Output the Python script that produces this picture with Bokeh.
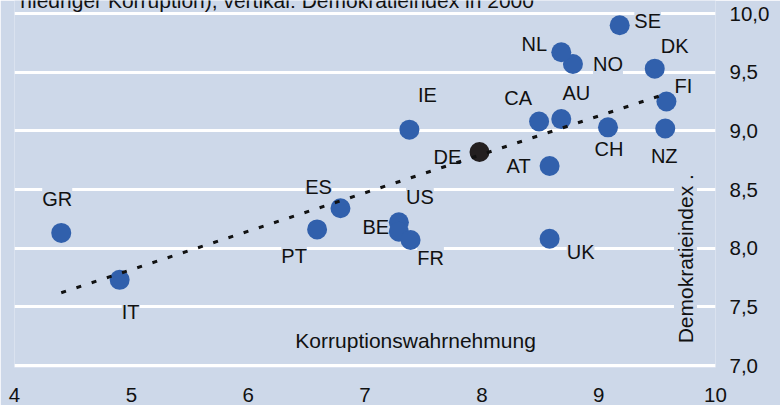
import math
from bokeh.plotting import figure
from bokeh.models import ColumnDataSource, LabelSet, Label, Range1d, FixedTicker
from bokeh.core.properties import value
from bokeh.embed import file_html
from bokeh.resources import INLINE

# ---- data ----
countries = ["GR", "IT", "PT", "ES", "US", "BE", "FR", "IE", "DE", "CA",
             "AU", "AT", "UK", "CH", "NZ", "FI", "DK", "NO", "NL", "SE"]
corruption = [4.40, 4.90, 6.59, 6.79, 7.29, 7.29, 7.39, 7.38, 7.98, 8.49,
              8.68, 8.58, 8.58, 9.08, 9.57, 9.58, 9.48, 8.78, 8.68, 9.18]
democracy = [8.13, 7.73, 8.16, 8.34, 8.22, 8.14, 8.07, 9.01, 8.82, 9.08,
             9.10, 8.70, 8.08, 9.03, 9.02, 9.25, 9.53, 9.57, 9.67, 9.90]
highlight = "DE"

trend_x = [4.40, 9.59]
trend_y = [7.62, 9.32]

x_ticks = [4, 5, 6, 7, 8, 9, 10]
x_tick_labels = ["4", "5", "6", "7", "8", "9", "10"]
y_ticks = [7.0, 7.5, 8.0, 8.5, 9.0, 9.5, 10.0]
y_tick_labels = ["7,0", "7,5", "8,0", "8,5", "9,0", "9,5", "10,0"]

x_title = "Korruptionswahrnehmung"
y_title = "Demokratieindex ."
top_text = "niedriger Korruption), vertikal: Demokratieindex in 2000"

# ---- layout / style ----
label_dx = [-4, 11, -23, -22, 21, -23, 20, 18, -32, -21,
            15, -31, 31, 1, -1, 17, 20, 35, -27, 28]
label_dy = [34, -32, -27, 21, 25, 5, -18, 35, -5, 23,
            26, 0, -13, -22, -28, 16, 23, 0, 8, 4]

BG = "#CDD8E9"
BLUE = "#3160AC"
DARK = "#231F20"
TXT = "#111111"
FONT = "Liberation Sans"

colors = [DARK if c == highlight else BLUE for c in countries]

src = ColumnDataSource(dict(x=corruption, y=democracy, name=countries,
                            color=colors, dx=label_dx, dy=label_dy))

p = figure(width=780, height=405, output_backend="svg", toolbar_location=None,
           x_range=Range1d(4, 10), y_range=Range1d(6.983, 10.1108),
           y_axis_location="right",
           min_border_left=14, min_border_right=65, min_border_top=0,
           min_border_bottom=38,
           background_fill_color=BG, border_fill_color=BG,
           outline_line_color=None)

# axes
for ax in (p.xaxis[0], p.yaxis[0]):
    ax.axis_line_color = None
    ax.major_tick_line_color = None
    ax.minor_tick_line_color = None
    ax.major_tick_in = 0
    ax.major_tick_out = 0
    ax.major_label_text_font = FONT
    ax.major_label_text_font_size = "20.5px"
    ax.major_label_text_color = TXT

p.xaxis[0].ticker = FixedTicker(ticks=x_ticks)
p.xaxis[0].major_label_overrides = dict(zip(x_ticks, x_tick_labels))
p.xaxis[0].major_label_standoff = 20
p.xaxis[0].major_label_text_line_height = 0.7
p.yaxis[0].ticker = FixedTicker(ticks=y_ticks)
p.yaxis[0].major_label_overrides = dict(zip(y_ticks, y_tick_labels))
p.yaxis[0].major_label_standoff = 14

p.xgrid.visible = False
p.ygrid.ticker = FixedTicker(ticks=y_ticks)
p.ygrid.grid_line_color = "white"
p.ygrid.grid_line_width = 3

# heading text, cut off at the top as in the reference
p.add_layout(Label(x=4.05, y=10.11, text=top_text,
                   text_font=FONT, text_font_size="21px", text_color=TXT,
                   text_align="left", text_baseline="alphabetic",
                   level="underlay"))

# country labels with background boxes that hide the grid lines
labels = LabelSet(x="x", y="y", text="name", source=src,
                  x_offset="dx", y_offset="dy",
                  text_font=value(FONT), text_font_size=value("20px"),
                  text_color=TXT,
                  text_align="center", text_baseline="middle",
                  background_fill_color=BG, level="underlay")
p.add_layout(labels)

p.add_layout(Label(x=7.433, y=7.209, text=x_title, text_font=FONT,
                   text_font_size="21px", text_color=TXT,
                   text_align="center", text_baseline="middle",
                   level="underlay"))
p.add_layout(Label(x=9.743, y=7.91, text=y_title, text_font=FONT,
                   text_font_size="21px", text_color=TXT, angle=math.pi / 2,
                   text_align="center", text_baseline="middle",
                   background_fill_color=BG, level="underlay"))

p.scatter("x", "y", source=src, size=20, fill_color="color", line_color=None)

p.line(trend_x, trend_y, line_color=TXT, line_width=3, line_dash="5 11")

open("out.html", "w").write(file_html(p, INLINE))
